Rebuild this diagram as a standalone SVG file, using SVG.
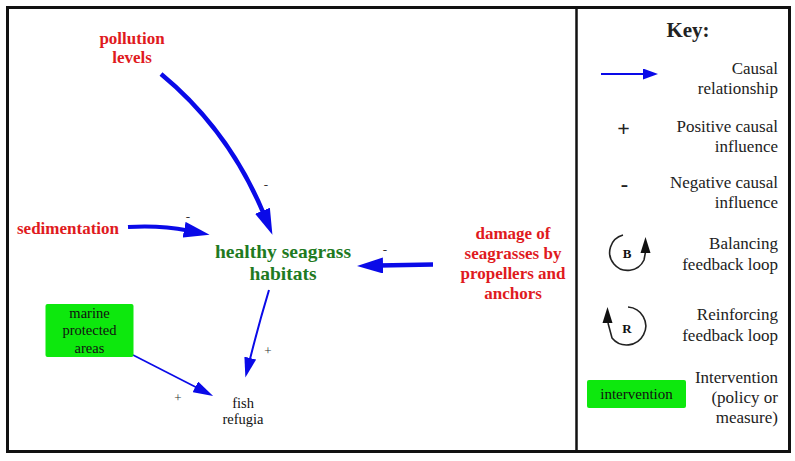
<svg xmlns="http://www.w3.org/2000/svg" width="795" height="461" viewBox="0 0 795 461">
  <style>
    text { font-family: "Liberation Serif", "Times New Roman", serif; }
    .red { fill: #e01a1e; font-weight: bold; font-size: 17px; text-anchor: middle; }
    .grn { fill: #1f7a1f; font-weight: bold; font-size: 19.5px; text-anchor: middle; }
    .blk { fill: #111; font-size: 14.5px; text-anchor: middle; }
    .sign { fill: #333; font-size: 13px; text-anchor: middle; }
    .key { fill: #222; font-size: 17px; text-anchor: end; }
    .keysym { fill: #222; font-size: 22px; font-weight: bold; text-anchor: middle; }
    .link { fill: none; stroke: #0a0ae8; stroke-linecap: butt; }
    .loop { fill: none; stroke: #222; stroke-width: 1.6; }
  </style>
  <defs>
    <marker id="headBig" markerUnits="userSpaceOnUse" markerWidth="26" markerHeight="16" refX="4" refY="8" orient="auto">
      <path d="M0,0 L26,8 L0,16 z" fill="#0a0ae8"/>
    </marker>
    <marker id="headMid" markerUnits="userSpaceOnUse" markerWidth="20" markerHeight="12" refX="3" refY="6" orient="auto">
      <path d="M0,0 L20,6 L0,12 z" fill="#0a0ae8"/>
    </marker>
    <marker id="headSmall" markerUnits="userSpaceOnUse" markerWidth="15" markerHeight="11" refX="3" refY="5.5" orient="auto">
      <path d="M0,0 L15,5.5 L0,11 z" fill="#0a0ae8"/>
    </marker>
  </defs>

  <!-- frame and key divider -->
  <rect x="7.5" y="7.5" width="782" height="444" fill="#fff" stroke="#111" stroke-width="3"/>
  <line x1="576.5" y1="7.5" x2="576.5" y2="451.5" stroke="#111" stroke-width="2.5"/>

  <!-- connectors -->
  <g id="connectors">
    <path class="link" stroke-width="4.5" d="M161,74 Q229,130 264,214.5" marker-end="url(#headBig)"/>
    <path class="link" stroke-width="4" d="M128,227 Q160,225 188,230.5" marker-end="url(#headBig)"/>
    <path class="link" stroke-width="4.5" d="M433,264.5 L379,265.5" marker-end="url(#headBig)"/>
    <path class="link" stroke-width="2" d="M269,290 Q259,323 249.5,361" marker-end="url(#headMid)"/>
    <path class="link" stroke-width="1.6" d="M133,355 L198,388.2" marker-end="url(#headMid)"/>
    <g class="sign">
      <text x="266" y="189">-</text>
      <text x="188" y="221">-</text>
      <text x="385" y="254">-</text>
      <text x="268" y="355">+</text>
      <text x="178" y="402">+</text>
    </g>
  </g>

  <!-- nodes -->
  <g id="pollution-levels" class="red">
    <text x="132" y="43.5">pollution</text>
    <text x="132" y="62.5">levels</text>
  </g>
  <g id="sedimentation" class="red">
    <text x="17" y="233.5" style="text-anchor:start">sedimentation</text>
  </g>
  <g id="healthy-seagrass-habitats" class="grn">
    <text x="283" y="257.5">healthy seagrass</text>
    <text x="283" y="280">habitats</text>
  </g>
  <g id="damage-of-seagrasses" class="red">
    <text x="513" y="238.5">damage of</text>
    <text x="513" y="258.5">seagrasses by</text>
    <text x="513" y="278.5">propellers and</text>
    <text x="513" y="298.5">anchors</text>
  </g>
  <g id="marine-protected-areas">
    <rect x="45.5" y="304" width="88" height="53" rx="2" fill="#0de80d"/>
    <g class="blk">
      <text x="89.5" y="317.5">marine</text>
      <text x="89.5" y="335">protected</text>
      <text x="89.5" y="352.5">areas</text>
    </g>
  </g>
  <g id="fish-refugia" class="blk">
    <text x="243" y="408">fish</text>
    <text x="243" y="424">refugia</text>
  </g>

  <!-- key -->
  <g id="key">
    <text x="688" y="37" style="font-size:21px;font-weight:bold;text-anchor:middle;fill:#222">Key:</text>

    <g id="key-causal">
      <line class="link" stroke-width="2" x1="601" y1="74" x2="646" y2="74" marker-end="url(#headSmall)"/>
      <text class="key" x="778" y="74">Causal</text>
      <text class="key" x="778" y="94">relationship</text>
    </g>

    <g id="key-positive">
      <text class="keysym" x="623.5" y="136">+</text>
      <text class="key" x="778" y="132">Positive causal</text>
      <text class="key" x="778" y="152">influence</text>
    </g>

    <g id="key-negative">
      <text class="keysym" x="624.5" y="191">-</text>
      <text class="key" x="778" y="188">Negative causal</text>
      <text class="key" x="778" y="208">influence</text>
    </g>

    <g id="key-balancing">
      <path class="loop" d="M623,235 A18,18 0 1 0 644,260 L645.5,252"/>
      <path d="M645.5,237 L650.5,253 L640.5,253 z" fill="#111"/>
      <text x="627" y="258" style="font-size:13px;font-weight:bold;text-anchor:middle;fill:#111">B</text>
      <text class="key" x="778" y="249">Balancing</text>
      <text class="key" x="778" y="270">feedback loop</text>
    </g>

    <g id="key-reinforcing">
      <path class="loop" d="M628,307 A19,19 0 1 1 612,338 L608,323"/>
      <path d="M607.5,307 L612.5,323 L602.5,323 z" fill="#111"/>
      <text x="627" y="333" style="font-size:13px;font-weight:bold;text-anchor:middle;fill:#111">R</text>
      <text class="key" x="778" y="320">Reinforcing</text>
      <text class="key" x="778" y="341">feedback loop</text>
    </g>

    <g id="key-intervention">
      <rect x="587" y="380" width="99" height="28" rx="2" fill="#0de80d"/>
      <text x="636.5" y="399" style="font-size:15px;text-anchor:middle;fill:#111">intervention</text>
      <text class="key" x="778" y="383">Intervention</text>
      <text class="key" x="778" y="403">(policy or</text>
      <text class="key" x="778" y="423">measure)</text>
    </g>
  </g>
</svg>
